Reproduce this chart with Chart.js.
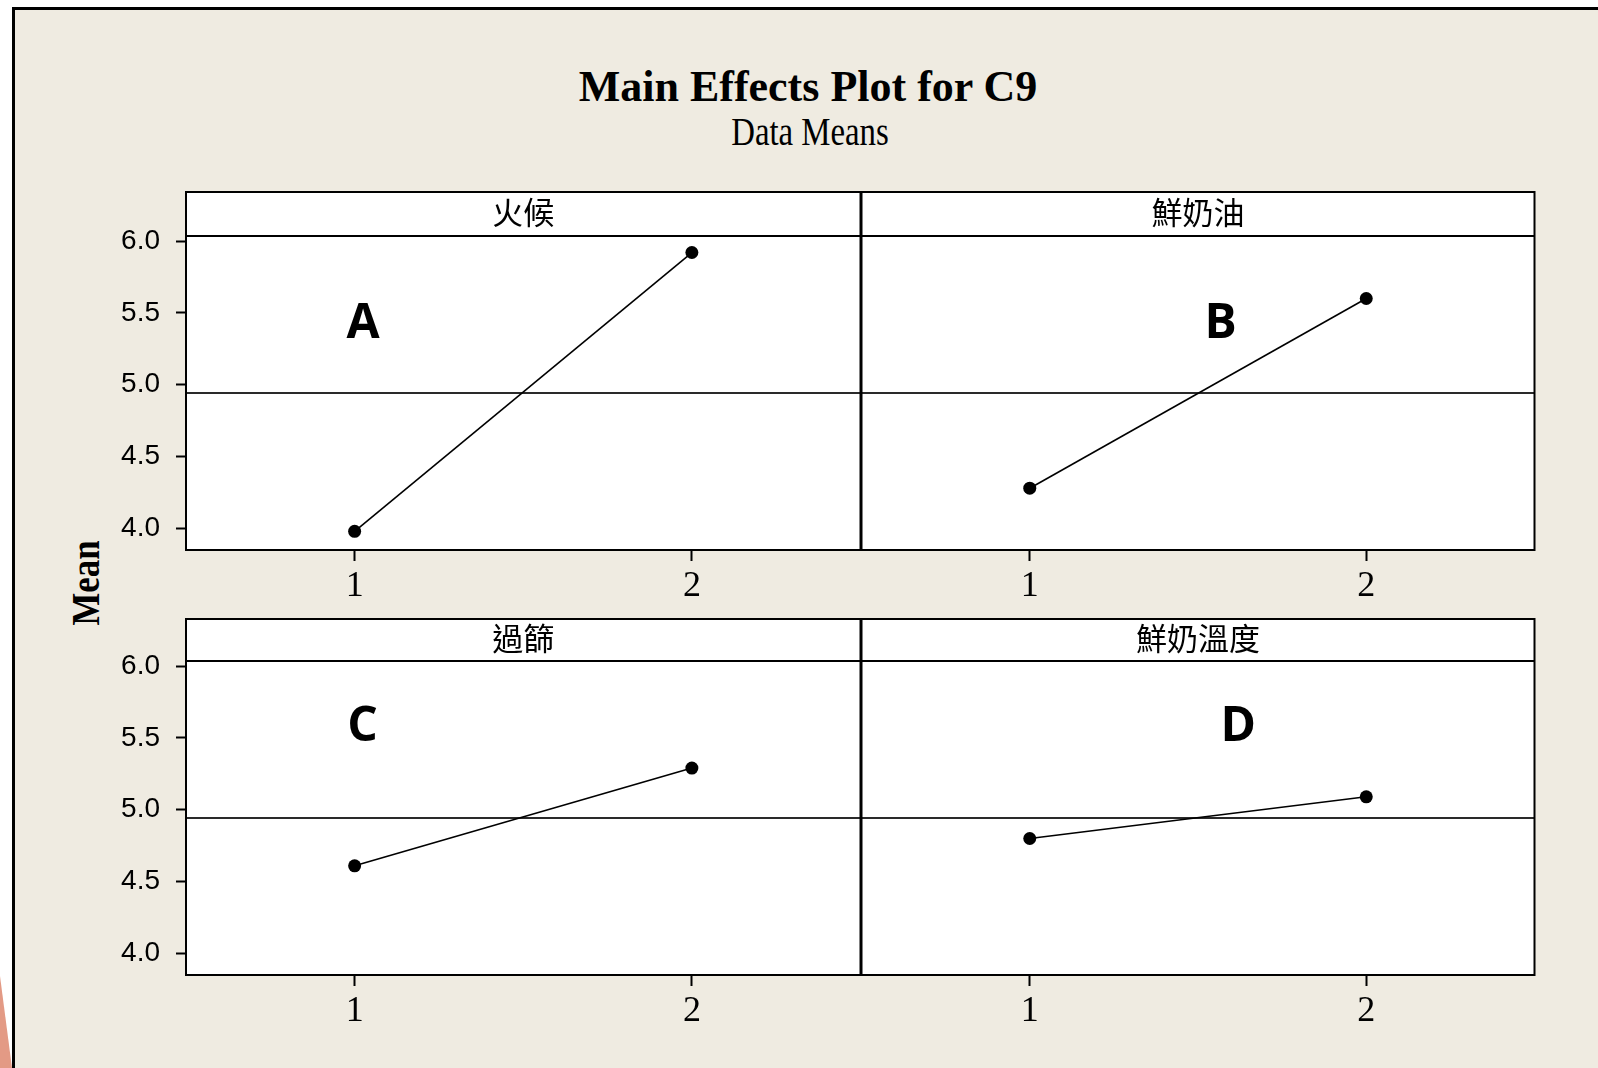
<!DOCTYPE html>
<html>
<head>
<meta charset="utf-8">
<title>Main Effects Plot for C9</title>
<script src="https://cdn.jsdelivr.net/npm/chart.js@4.4.1/dist/chart.umd.min.js"></script>
<style>
  html, body { margin: 0; padding: 0; width: 1598px; height: 1068px; overflow: hidden; background: #ffffff; position: relative; }
  #frame { position: absolute; left: 12px; top: 7px; width: 1620px; height: 1100px; background: #EFEBE1;
           border-left: 3px solid #000; border-top: 3px solid #000; }
  #corner { position: absolute; left: 0; top: 976px; width: 12px; height: 92px; background: #E39A85;
            clip-path: polygon(0 0, 100% 100%, 0 100%); }
  .txt { position: absolute; white-space: nowrap; line-height: 1; color: #000; }
  #title { left: 408px; top: 64.9px; width: 800px; text-align: center;
           font-family: 'Liberation Serif'; font-weight: bold; font-size: 44px; }
  #subtitle { left: 409.5px; top: 111.5px; width: 800px; text-align: center;
              font-family: 'Liberation Serif'; font-size: 40px; transform: scaleX(0.82); }
  #ylabel { left: 0; top: 0; width: 200px; text-align: center; transform-origin: 0 0;
            transform: translate(64.6px, 668px) rotate(-90deg) scaleX(0.85);
            font-family: 'Liberation Serif'; font-weight: bold; font-size: 41px; }
  .tag { width: 100px; text-align: center; font-family: 'Open Sans'; font-weight: 700; font-size: 48px; }
  canvas { position: absolute; }
</style>
</head>
<body>
<div id="frame"></div>
<div id="corner"></div>
<div class="txt" id="title">Main Effects Plot for C9</div>
<div class="txt" id="subtitle">Data Means</div>
<div class="txt" id="ylabel">Mean</div>

<script>
// Factor levels and the mean response at each level
const LEVELS = [1, 2];
const FACTORS = ['火候', '鮮奶油', '過篩', '鮮奶溫度'];
const TAGS = ['A', 'B', 'C', 'D'];
const FIRE_MEANS = [3.98, 5.92];       // 火候
const CREAM_MEANS = [4.28, 5.60];      // 鮮奶油
const SIEVE_MEANS = [4.61, 5.29];      // 過篩
const MILK_TEMP_MEANS = [4.80, 5.09];  // 鮮奶溫度
const GRAND_MEAN = 4.94;

// Axis ticks shared by every panel
const Y_TICKS = [4.0, 4.5, 5.0, 5.5, 6.0];
const Y_TICK_LABELS = ['4.0', '4.5', '5.0', '5.5', '6.0'];
const X_TICK_LABELS = ['1', '2'];
const Y_MIN = 3.85, Y_MAX = 6.035;
const X_MIN = 0.5, X_MAX = 2.5;

// Panel grid (page pixels)
const COLS = [{ left: 186, right: 861 }, { left: 861, right: 1535 }];
const ROWS = [{ top: 192, strip: 236, bottom: 550 }, { top: 619, strip: 661, bottom: 975 }];
const PANELS = [
  { factor: 0, means: FIRE_MEANS, col: 0, row: 0, tag: { x: 363, base: 338.5 } },
  { factor: 1, means: CREAM_MEANS, col: 1, row: 0, tag: { x: 1220.5, base: 338.5 } },
  { factor: 2, means: SIEVE_MEANS, col: 0, row: 1, tag: { x: 362.5, base: 741.5 } },
  { factor: 3, means: MILK_TEMP_MEANS, col: 1, row: 1, tag: { x: 1238.3, base: 741.5 } }
];

const Y_AXIS_W = 96, PAD = 6, X_AXIS_H = 70;

// Draws the white panel, the factor strip, the grand-mean reference line and the frame
const panelFrame = {
  id: 'panelFrame',
  beforeDraw(chart, args, opts) {
    const { ctx, chartArea: a } = chart;
    ctx.save();
    ctx.fillStyle = '#ffffff';
    ctx.fillRect(a.left, a.top - opts.strip, a.right - a.left, a.bottom - a.top + opts.strip);
    ctx.restore();
  },
  beforeDatasetsDraw(chart, args, opts) {
    const { ctx, chartArea: a, scales: { y } } = chart;
    const py = Math.round(y.getPixelForValue(opts.reference));
    ctx.save();
    ctx.strokeStyle = '#2a2a2a';
    ctx.lineWidth = 2;
    ctx.beginPath();
    ctx.moveTo(a.left, py);
    ctx.lineTo(a.right, py);
    ctx.stroke();
    ctx.restore();
  },
  afterDraw(chart, args, opts) {
    const { ctx, chartArea: a } = chart;
    const top = a.top - opts.strip;
    ctx.save();
    ctx.strokeStyle = '#000';
    ctx.lineWidth = 2;
    ctx.strokeRect(a.left, top, a.right - a.left, a.bottom - top);
    ctx.beginPath();
    ctx.moveTo(a.left, a.top);
    ctx.lineTo(a.right, a.top);
    ctx.stroke();
    ctx.fillStyle = '#000';
    ctx.font = "31px 'Noto Sans CJK TC'";
    ctx.textAlign = 'center';
    ctx.textBaseline = 'middle';
    ctx.fillText(opts.title, (a.left + a.right) / 2, top + opts.strip / 2 - 2);
    ctx.restore();
  }
};

PANELS.forEach((p) => {
  const c = COLS[p.col], r = ROWS[p.row];
  const showY = p.col === 0;
  const left = showY ? c.left - Y_AXIS_W : c.left - PAD;
  const top = r.top - PAD;
  const w = c.right + PAD - left;
  const h = r.bottom + X_AXIS_H - top;

  const cv = document.createElement('canvas');
  cv.width = w;
  cv.height = h;
  cv.style.left = left + 'px';
  cv.style.top = top + 'px';
  cv.style.width = w + 'px';
  cv.style.height = h + 'px';
  document.body.appendChild(cv);

  const yScale = {
    type: 'linear', display: showY, bounds: 'data', min: Y_MIN, max: Y_MAX,
    afterBuildTicks: (s) => { s.ticks = Y_TICKS.map((v) => ({ value: v })); },
    ticks: { callback: (v, i) => Y_TICK_LABELS[i], font: { family: 'Liberation Sans', size: 28 }, color: '#000', padding: 16 },
    grid: { drawOnChartArea: false, drawTicks: true, tickLength: 10, tickWidth: 2, tickColor: '#000' },
    border: { display: false }
  };
  if (showY) yScale.afterFit = (s) => { s.width = Y_AXIS_W; };

  new Chart(cv, {
    type: 'line',
    data: {
      datasets: [{
        data: LEVELS.map((x, i) => ({ x: x, y: p.means[i] })),
        borderColor: '#000', borderWidth: 1.6, tension: 0,
        pointRadius: 6.5, pointHoverRadius: 6.5, pointBackgroundColor: '#000', pointBorderWidth: 0
      }]
    },
    options: {
      responsive: false, animation: false, events: [],
      layout: { padding: { top: r.strip - top, left: showY ? 0 : PAD, right: PAD, bottom: 0 } },
      plugins: {
        legend: { display: false },
        tooltip: { enabled: false },
        panelFrame: { title: FACTORS[p.factor], strip: r.strip - r.top, reference: GRAND_MEAN }
      },
      scales: {
        x: {
          type: 'linear', bounds: 'data', min: X_MIN, max: X_MAX,
          afterBuildTicks: (s) => { s.ticks = LEVELS.map((v) => ({ value: v })); },
          afterFit: (s) => { s.height = X_AXIS_H; },
          ticks: { callback: (v, i) => X_TICK_LABELS[i], font: { family: 'Liberation Serif', size: 36 }, color: '#000', padding: 4, maxRotation: 0 },
          grid: { drawOnChartArea: false, drawTicks: true, tickLength: 11, tickWidth: 2, tickColor: '#000' },
          border: { display: false }
        },
        y: yScale
      }
    },
    plugins: [panelFrame]
  });

  // Panel letter
  const tag = document.createElement('div');
  tag.className = 'txt tag';
  tag.textContent = TAGS[p.factor];
  tag.style.left = (p.tag.x - 50) + 'px';
  tag.style.top = (p.tag.base - 0.888 * 48) + 'px';
  document.body.appendChild(tag);
});
</script>
</body>
</html>
